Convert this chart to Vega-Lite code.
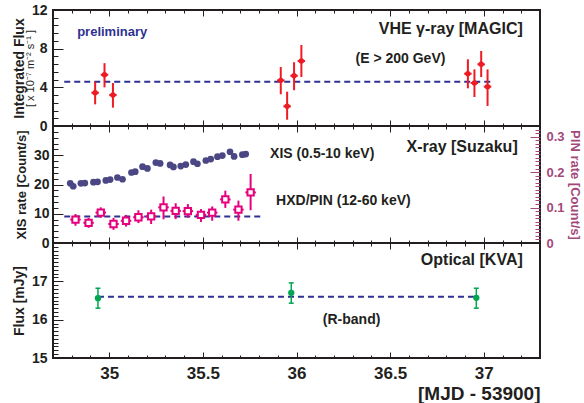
{
  "$schema": "https://vega.github.io/schema/vega-lite/v6.json",
  "padding": {"left": 11, "top": 2, "right": 0, "bottom": 2},
  "spacing": 0,
  "bounds": "flush",
  "config": {
    "view": {"stroke": "#231f20", "strokeWidth": 2},
    "axis": {"domain": false, "grid": false, "tickColor": "#231f20", "tickWidth": 1, "labelFont": "Liberation Sans", "labelFontWeight": "bold", "labelColor": "#231f20", "titleFont": "Liberation Sans", "titleFontWeight": "bold", "titleColor": "#231f20", "labelOverlap": false},
    "text": {"font": "Liberation Sans", "fontWeight": "bold", "color": "#231f20"}
  },
  "datasets": {
    "magic": [
      {"t": 34.925, "tlo": 34.905, "thi": 34.945, "f": 3.44, "lo": 2.24, "hi": 4.58},
      {"t": 34.975, "tlo": 34.955, "thi": 34.995, "f": 5.3, "lo": 4.0, "hi": 6.5},
      {"t": 35.02, "tlo": 35.0, "thi": 35.04, "f": 3.2, "lo": 1.9, "hi": 4.45},
      {"t": 35.916, "tlo": 35.896, "thi": 35.936, "f": 4.72, "lo": 3.28, "hi": 6.1},
      {"t": 35.95, "tlo": 35.93, "thi": 35.97, "f": 2.04, "lo": 0.65, "hi": 3.55},
      {"t": 35.987, "tlo": 35.967, "thi": 36.007, "f": 5.2, "lo": 3.7, "hi": 6.6},
      {"t": 36.026, "tlo": 36.006, "thi": 36.046, "f": 6.72, "lo": 5.07, "hi": 8.38},
      {"t": 36.915, "tlo": 36.895, "thi": 36.935, "f": 5.41, "lo": 3.9, "hi": 6.9},
      {"t": 36.95, "tlo": 36.93, "thi": 36.97, "f": 4.45, "lo": 3.0, "hi": 5.86},
      {"t": 36.986, "tlo": 36.966, "thi": 37.006, "f": 6.38, "lo": 5.07, "hi": 7.76},
      {"t": 37.02, "tlo": 37.0, "thi": 37.04, "f": 4.07, "lo": 2.07, "hi": 5.86}
    ],
    "xis": [
      {"t": 34.792, "r": 20.4}, {"t": 34.808, "r": 19.4}, {"t": 34.849, "r": 20.4}, {"t": 34.870, "r": 20.5},
      {"t": 34.916, "r": 20.8}, {"t": 34.938, "r": 20.9}, {"t": 34.982, "r": 21.4}, {"t": 35.005, "r": 21.7},
      {"t": 35.044, "r": 22.4}, {"t": 35.071, "r": 21.8}, {"t": 35.119, "r": 24.1}, {"t": 35.139, "r": 24.4},
      {"t": 35.178, "r": 26.1}, {"t": 35.204, "r": 25.5}, {"t": 35.249, "r": 27.5}, {"t": 35.272, "r": 27.2},
      {"t": 35.325, "r": 26.7}, {"t": 35.343, "r": 26.0}, {"t": 35.382, "r": 26.3}, {"t": 35.409, "r": 26.8},
      {"t": 35.450, "r": 27.8}, {"t": 35.471, "r": 27.1}, {"t": 35.516, "r": 28.2}, {"t": 35.542, "r": 28.7},
      {"t": 35.578, "r": 29.5}, {"t": 35.604, "r": 29.9}, {"t": 35.645, "r": 31.2}, {"t": 35.667, "r": 29.6},
      {"t": 35.711, "r": 30.2}, {"t": 35.729, "r": 30.4}
    ],
    "pin": [
      {"t": 34.82, "tlo": 34.792, "thi": 34.848, "p": 8.0, "lo": 5.9, "hi": 9.9},
      {"t": 34.89, "tlo": 34.862, "thi": 34.918, "p": 6.9, "lo": 5.2, "hi": 8.6},
      {"t": 34.955, "tlo": 34.927, "thi": 34.983, "p": 10.4, "lo": 8.6, "hi": 12.2},
      {"t": 35.023, "tlo": 34.995, "thi": 35.051, "p": 6.5, "lo": 4.5, "hi": 8.6},
      {"t": 35.09, "tlo": 35.062, "thi": 35.118, "p": 7.6, "lo": 5.6, "hi": 9.6},
      {"t": 35.156, "tlo": 35.128, "thi": 35.184, "p": 8.8, "lo": 6.8, "hi": 11.2},
      {"t": 35.224, "tlo": 35.196, "thi": 35.252, "p": 9.1, "lo": 6.5, "hi": 11.4},
      {"t": 35.29, "tlo": 35.262, "thi": 35.318, "p": 12.2, "lo": 8.1, "hi": 15.9},
      {"t": 35.355, "tlo": 35.327, "thi": 35.383, "p": 11.0, "lo": 8.2, "hi": 13.6},
      {"t": 35.42, "tlo": 35.392, "thi": 35.448, "p": 10.9, "lo": 8.6, "hi": 13.3},
      {"t": 35.49, "tlo": 35.462, "thi": 35.518, "p": 9.6, "lo": 7.2, "hi": 11.6},
      {"t": 35.55, "tlo": 35.522, "thi": 35.578, "p": 10.4, "lo": 7.6, "hi": 12.5},
      {"t": 35.62, "tlo": 35.592, "thi": 35.648, "p": 14.9, "lo": 12.0, "hi": 17.9},
      {"t": 35.69, "tlo": 35.662, "thi": 35.718, "p": 11.4, "lo": 7.6, "hi": 14.5},
      {"t": 35.755, "tlo": 35.727, "thi": 35.783, "p": 17.3, "lo": 11.2, "hi": 23.6}
    ],
    "opt": [
      {"t": 34.94, "f": 16.56, "lo": 16.30, "hi": 16.82},
      {"t": 35.972, "f": 16.70, "lo": 16.43, "hi": 16.96},
      {"t": 36.96, "f": 16.57, "lo": 16.30, "hi": 16.82}
    ]
  },
  "vconcat": [
    {
      "width": 487, "height": 116,
      "layer": [
        {"data": {"values": [{"t0": 34.76, "t1": 37.05, "f": 4.58}]}, "mark": {"type": "rule", "strokeDash": [6, 4], "strokeWidth": 2, "color": "#2e3192"},
         "encoding": {"x": {"field": "t0", "type": "quantitative", "scale": {"domain": [34.7, 37.3], "nice": false, "zero": false}, "axis": null}, "x2": {"field": "t1"}, "y": {"field": "f", "type": "quantitative", "scale": {"domain": [0, 12], "nice": false, "zero": false}, "axis": null}}},
        {"data": {"name": "magic"}, "mark": {"type": "rule", "color": "#ed1c24", "strokeWidth": 2},
         "encoding": {"x": {"field": "t", "type": "quantitative", "axis": null}, "y": {"field": "lo", "type": "quantitative", "axis": null}, "y2": {"field": "hi"}}},
        {"data": {"name": "magic"}, "mark": {"type": "rule", "color": "#ed1c24", "strokeWidth": 2},
         "encoding": {"x": {"field": "tlo", "type": "quantitative", "axis": null}, "x2": {"field": "thi"}, "y": {"field": "f", "type": "quantitative", "axis": null}}},
        {"data": {"name": "magic"}, "mark": {"type": "circle", "color": "#ed1c24", "size": 30, "opacity": 1},
         "encoding": {"x": {"field": "t", "type": "quantitative", "axis": null}, "y": {"field": "f", "type": "quantitative", "axis": null}}},
        {"data": {"values": [{"t": 34.829, "v": 9.75, "label": "preliminary"}]}, "mark": {"type": "text", "align": "left", "baseline": "middle", "fontSize": 13, "color": "#2e3192"},
         "encoding": {"x": {"field": "t", "type": "quantitative", "axis": null}, "y": {"field": "v", "type": "quantitative", "axis": null}, "text": {"field": "label"}}},
        {"data": {"values": [{"t": 37.208, "v": 10.06, "label": "VHE γ-ray [MAGIC]"}]}, "mark": {"type": "text", "align": "right", "baseline": "middle", "fontSize": 16},
         "encoding": {"x": {"field": "t", "type": "quantitative", "axis": null}, "y": {"field": "v", "type": "quantitative", "axis": null}, "text": {"field": "label"}}},
        {"data": {"values": [{"t": 36.555, "v": 6.96, "label": "(E > 200 GeV)"}]}, "mark": {"type": "text", "align": "center", "baseline": "middle", "fontSize": 14},
         "encoding": {"x": {"field": "t", "type": "quantitative", "axis": null}, "y": {"field": "v", "type": "quantitative", "axis": null}, "text": {"field": "label"}}},
        {"data": {"name": "magic"}, "mark": {"type": "point", "opacity": 0},
         "encoding": {"x": {"field": "t", "type": "quantitative", "axis": {"orient": "bottom", "values": [35, 35.5, 36, 36.5, 37], "labels": false, "tickSize": -6, "title": null}},
                      "y": {"field": "f", "type": "quantitative", "axis": {"orient": "left", "values": [0, 4, 8, 12], "tickSize": -10, "labelFontSize": 14, "labelPadding": 16, "title": "Integrated Flux", "titleFontSize": 14, "titlePadding": 5}}}},
        {"data": {"name": "magic"}, "mark": {"type": "point", "opacity": 0},
         "encoding": {"x": {"field": "t", "type": "quantitative", "axis": {"orient": "bottom", "values": [34.8, 34.9, 35.1, 35.2, 35.3, 35.4, 35.6, 35.7, 35.8, 35.9, 36.1, 36.2, 36.3, 36.4, 36.6, 36.7, 36.8, 36.9, 37.1, 37.2], "labels": false, "tickSize": -3, "title": null}},
                      "y": {"field": "f", "type": "quantitative", "axis": {"orient": "left", "values": [0.8, 1.6, 2.4, 3.2, 4.8, 5.6, 6.4, 7.2, 8.8, 9.6, 10.4, 11.2], "tickSize": -5, "labels": false, "title": "[ x 10⁻⁷ m⁻² s⁻¹ ]", "titleFontSize": 11, "titleFontWeight": "normal", "titlePadding": 17}}}},
        {"data": {"name": "magic"}, "mark": {"type": "point", "opacity": 0},
         "encoding": {"x": {"field": "t", "type": "quantitative", "axis": {"orient": "top", "values": [35, 35.5, 36, 36.5, 37], "labels": false, "tickSize": -6, "title": null}},
                      "y": {"field": "f", "type": "quantitative", "axis": null}}},
        {"data": {"name": "magic"}, "mark": {"type": "point", "opacity": 0},
         "encoding": {"x": {"field": "t", "type": "quantitative", "axis": {"orient": "top", "values": [34.8, 34.9, 35.1, 35.2, 35.3, 35.4, 35.6, 35.7, 35.8, 35.9, 36.1, 36.2, 36.3, 36.4, 36.6, 36.7, 36.8, 36.9, 37.1, 37.2], "labels": false, "tickSize": -3, "title": null}},
                      "y": {"field": "f", "type": "quantitative", "axis": null}}}
      ],
      "resolve": {"axis": {"x": "independent", "y": "independent"}}
    },
    {
      "width": 487, "height": 117,
      "layer": [
        {"data": {"values": [{"t0": 34.76, "t1": 35.818, "p": 9.1}]}, "mark": {"type": "rule", "strokeDash": [6, 4], "strokeWidth": 2, "color": "#2e3192"},
         "encoding": {"x": {"field": "t0", "type": "quantitative", "scale": {"domain": [34.7, 37.3], "nice": false, "zero": false}, "axis": null}, "x2": {"field": "t1"}, "y": {"field": "p", "type": "quantitative", "scale": {"domain": [0, 40], "nice": false, "zero": false}, "axis": null}}},
        {"data": {"name": "xis"}, "mark": {"type": "circle", "color": "#4b4785", "size": 45, "opacity": 1},
         "encoding": {"x": {"field": "t", "type": "quantitative", "axis": null}, "y": {"field": "r", "type": "quantitative", "axis": null}}},
        {"data": {"name": "pin"}, "mark": {"type": "rule", "color": "#e6007e", "strokeWidth": 2},
         "encoding": {"x": {"field": "t", "type": "quantitative", "axis": null}, "y": {"field": "lo", "type": "quantitative", "axis": null}, "y2": {"field": "hi"}}},
        {"data": {"name": "pin"}, "mark": {"type": "rule", "color": "#e6007e", "strokeWidth": 2},
         "encoding": {"x": {"field": "tlo", "type": "quantitative", "axis": null}, "x2": {"field": "thi"}, "y": {"field": "p", "type": "quantitative", "axis": null}}},
        {"data": {"name": "pin"}, "mark": {"type": "point", "shape": "square", "filled": true, "fill": "white", "stroke": "#e6007e", "strokeWidth": 2, "size": 40, "opacity": 1},
         "encoding": {"x": {"field": "t", "type": "quantitative", "axis": null}, "y": {"field": "p", "type": "quantitative", "axis": null}}},
        {"data": {"values": [{"t": 37.181, "v": 32.9, "label": "X-ray [Suzaku]"}]}, "mark": {"type": "text", "align": "right", "baseline": "middle", "fontSize": 16},
         "encoding": {"x": {"field": "t", "type": "quantitative", "axis": null}, "y": {"field": "v", "type": "quantitative", "axis": null}, "text": {"field": "label"}}},
        {"data": {"values": [{"t": 35.859, "v": 30.5, "label": "XIS (0.5-10 keV)"}]}, "mark": {"type": "text", "align": "left", "baseline": "middle", "fontSize": 14},
         "encoding": {"x": {"field": "t", "type": "quantitative", "axis": null}, "y": {"field": "v", "type": "quantitative", "axis": null}, "text": {"field": "label"}}},
        {"data": {"values": [{"t": 35.891, "v": 14.2, "label": "HXD/PIN (12-60 keV)"}]}, "mark": {"type": "text", "align": "left", "baseline": "middle", "fontSize": 14},
         "encoding": {"x": {"field": "t", "type": "quantitative", "axis": null}, "y": {"field": "v", "type": "quantitative", "axis": null}, "text": {"field": "label"}}},
        {"data": {"name": "xis"}, "mark": {"type": "point", "opacity": 0},
         "encoding": {"x": {"field": "t", "type": "quantitative", "axis": {"orient": "bottom", "values": [35, 35.5, 36, 36.5, 37], "labels": false, "tickSize": -6, "title": null}},
                      "y": {"field": "r", "type": "quantitative", "axis": {"orient": "left", "values": [0, 10, 20, 30], "tickSize": -10, "labelFontSize": 14, "labelPadding": 14, "title": "XIS rate [Count/s]", "titleFontSize": 13, "titlePadding": 5}}}},
        {"data": {"name": "xis"}, "mark": {"type": "point", "opacity": 0},
         "encoding": {"x": {"field": "t", "type": "quantitative", "axis": {"orient": "bottom", "values": [34.8, 34.9, 35.1, 35.2, 35.3, 35.4, 35.6, 35.7, 35.8, 35.9, 36.1, 36.2, 36.3, 36.4, 36.6, 36.7, 36.8, 36.9, 37.1, 37.2], "labels": false, "tickSize": -3, "title": null}},
                      "y": {"field": "r", "type": "quantitative", "axis": {"orient": "left", "values": [2, 4, 6, 8, 12, 14, 16, 18, 22, 24, 26, 28, 32, 34, 36, 38], "tickSize": -5, "labels": false, "title": null}}}},
        {"data": {"name": "pin"}, "mark": {"type": "point", "opacity": 0},
         "encoding": {"x": {"field": "t", "type": "quantitative", "axis": {"orient": "top", "values": [35, 35.5, 36, 36.5, 37], "labels": false, "tickSize": -6, "title": null}},
                      "y": {"field": "p", "type": "quantitative", "axis": {"orient": "right", "values": [0, 12.12, 24.24, 36.36], "labelExpr": "datum.value < 1 ? '0' : format(datum.value / 121.2, '.1f')", "tickSize": -10, "tickColor": "#a3487c", "labelFontSize": 13, "labelColor": "#a3487c", "labelPadding": 16, "title": "PIN rate [Count/s]", "titleColor": "#a3487c", "titleFontSize": 13, "titlePadding": 3}}}},
        {"data": {"name": "pin"}, "mark": {"type": "point", "opacity": 0},
         "encoding": {"x": {"field": "t", "type": "quantitative", "axis": {"orient": "top", "values": [34.8, 34.9, 35.1, 35.2, 35.3, 35.4, 35.6, 35.7, 35.8, 35.9, 36.1, 36.2, 36.3, 36.4, 36.6, 36.7, 36.8, 36.9, 37.1, 37.2], "labels": false, "tickSize": -3, "title": null}},
                      "y": {"field": "p", "type": "quantitative", "axis": {"orient": "right", "values": [1.21, 2.42, 3.64, 4.85, 6.06, 7.27, 8.48, 9.7, 10.91, 13.33, 14.54, 15.76, 16.97, 18.18, 19.39, 20.6, 21.82, 23.03, 25.45, 26.66, 27.88, 29.09, 30.3, 31.51, 32.72, 33.94, 35.15, 37.57, 38.78], "tickSize": -5, "tickColor": "#a3487c", "labels": false, "title": null}}}}
      ],
      "resolve": {"axis": {"x": "independent", "y": "independent"}}
    },
    {
      "width": 487, "height": 115,
      "layer": [
        {"data": {"values": [{"t0": 34.94, "t1": 36.96, "f": 16.60}]}, "mark": {"type": "rule", "strokeDash": [6, 4], "strokeWidth": 2, "color": "#2e3192"},
         "encoding": {"x": {"field": "t0", "type": "quantitative", "scale": {"domain": [34.7, 37.3], "nice": false, "zero": false}, "axis": null}, "x2": {"field": "t1"}, "y": {"field": "f", "type": "quantitative", "scale": {"domain": [15, 18], "nice": false, "zero": false}, "axis": null}}},
        {"data": {"name": "opt"}, "mark": {"type": "rule", "color": "#00a651", "strokeWidth": 1.5},
         "encoding": {"x": {"field": "t", "type": "quantitative", "axis": null}, "y": {"field": "lo", "type": "quantitative", "axis": null}, "y2": {"field": "hi"}}},
        {"data": {"name": "opt"}, "mark": {"type": "tick", "orient": "horizontal", "color": "#00a651", "size": 5, "thickness": 1.5, "opacity": 1},
         "encoding": {"x": {"field": "t", "type": "quantitative", "axis": null}, "y": {"field": "lo", "type": "quantitative", "axis": null}}},
        {"data": {"name": "opt"}, "mark": {"type": "tick", "orient": "horizontal", "color": "#00a651", "size": 5, "thickness": 1.5, "opacity": 1},
         "encoding": {"x": {"field": "t", "type": "quantitative", "axis": null}, "y": {"field": "hi", "type": "quantitative", "axis": null}}},
        {"data": {"name": "opt"}, "mark": {"type": "circle", "color": "#00a651", "size": 40, "opacity": 1},
         "encoding": {"x": {"field": "t", "type": "quantitative", "axis": null}, "y": {"field": "f", "type": "quantitative", "axis": null}}},
        {"data": {"values": [{"t": 37.208, "v": 17.55, "label": "Optical [KVA]"}]}, "mark": {"type": "text", "align": "right", "baseline": "middle", "fontSize": 16},
         "encoding": {"x": {"field": "t", "type": "quantitative", "axis": null}, "y": {"field": "v", "type": "quantitative", "axis": null}, "text": {"field": "label"}}},
        {"data": {"values": [{"t": 36.294, "v": 16.0, "label": "(R-band)"}]}, "mark": {"type": "text", "align": "center", "baseline": "middle", "fontSize": 14},
         "encoding": {"x": {"field": "t", "type": "quantitative", "axis": null}, "y": {"field": "v", "type": "quantitative", "axis": null}, "text": {"field": "label"}}},
        {"data": {"name": "opt"}, "mark": {"type": "point", "opacity": 0},
         "encoding": {"x": {"field": "t", "type": "quantitative", "axis": {"orient": "bottom", "values": [35, 35.5, 36, 36.5, 37], "format": "~g", "tickSize": -6, "labelFontSize": 17, "labelPadding": 13, "title": "[MJD - 53900]", "titleFontSize": 19, "titleAnchor": "end", "titlePadding": 3}},
                      "y": {"field": "f", "type": "quantitative", "axis": {"orient": "left", "values": [15, 16, 17], "tickSize": -10, "labelFontSize": 14, "labelPadding": 16, "title": "Flux [mJy]", "titleFontSize": 14, "titlePadding": 5}}}},
        {"data": {"name": "opt"}, "mark": {"type": "point", "opacity": 0},
         "encoding": {"x": {"field": "t", "type": "quantitative", "axis": {"orient": "bottom", "values": [34.8, 34.9, 35.1, 35.2, 35.3, 35.4, 35.6, 35.7, 35.8, 35.9, 36.1, 36.2, 36.3, 36.4, 36.6, 36.7, 36.8, 36.9, 37.1, 37.2], "labels": false, "tickSize": -3, "title": null}},
                      "y": {"field": "f", "type": "quantitative", "axis": {"orient": "left", "values": [15.1, 15.2, 15.3, 15.4, 15.5, 15.6, 15.7, 15.8, 15.9, 16.1, 16.2, 16.3, 16.4, 16.5, 16.6, 16.7, 16.8, 16.9, 17.1, 17.2, 17.3, 17.4, 17.5, 17.6, 17.7, 17.8, 17.9], "tickSize": -5, "labels": false, "title": null}}}},
        {"data": {"name": "opt"}, "mark": {"type": "point", "opacity": 0},
         "encoding": {"x": {"field": "t", "type": "quantitative", "axis": {"orient": "top", "values": [35, 35.5, 36, 36.5, 37], "labels": false, "tickSize": -6, "title": null}},
                      "y": {"field": "f", "type": "quantitative", "axis": null}}},
        {"data": {"name": "opt"}, "mark": {"type": "point", "opacity": 0},
         "encoding": {"x": {"field": "t", "type": "quantitative", "axis": {"orient": "top", "values": [34.8, 34.9, 35.1, 35.2, 35.3, 35.4, 35.6, 35.7, 35.8, 35.9, 36.1, 36.2, 36.3, 36.4, 36.6, 36.7, 36.8, 36.9, 37.1, 37.2], "labels": false, "tickSize": -3, "title": null}},
                      "y": {"field": "f", "type": "quantitative", "axis": null}}}
      ],
      "resolve": {"axis": {"x": "independent", "y": "independent"}}
    }
  ]
}
